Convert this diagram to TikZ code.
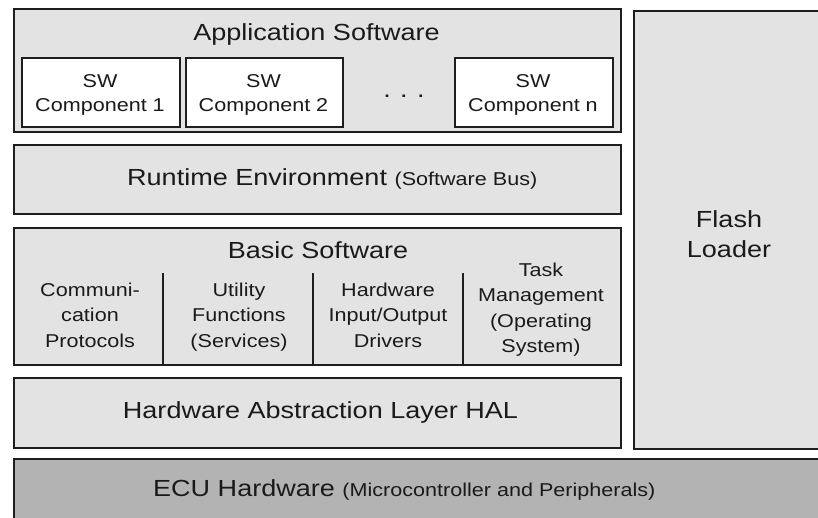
\documentclass[tikz,border=0pt]{standalone}
\usepackage{fontspec}
\usepackage{graphicx}
\setmainfont{Liberation Sans}
\usetikzlibrary{positioning}

% slightly widened lettering
\newcommand{\hstretch}[1]{\scalebox{1.16}[1]{#1}}
\newcommand{\bigtxt}{\fontsize{23.3}{30}\selectfont}
\newcommand{\smalltxt}{\fontsize{18.6}{25.5}\selectfont}
\newcommand{\stack}[1]{\hstretch{\begin{tabular}[t]{@{}c@{}}#1\end{tabular}}}

\definecolor{layerfill}{HTML}{E3E3E3}
\definecolor{hwfill}{HTML}{B3B3B3}
\definecolor{edge}{HTML}{1E1E1E}
\definecolor{ink}{HTML}{1A1A1A}

\tikzset{
  layer/.style={draw=edge, line width=1.8pt, fill=layerfill, rectangle,
    anchor=north west, inner sep=0pt},
  swbox/.style={layer, fill=white},
  hwbox/.style={layer, fill=hwfill},
  label/.style={anchor=base, inner sep=0pt, text=ink},
  divider/.style={draw=edge, line width=1.6pt}
}

\begin{document}
\begin{tikzpicture}[x=1pt, y=-1pt]
\useasboundingbox (0,0) rectangle (818,517);
\clip (0,0) rectangle (818,517);

% layer frames
\node[layer, minimum width=607pt, minimum height=123pt] (app) at (13,8) {};
\node[swbox, minimum width=158pt, minimum height=69pt] (sw1) at (21,57) {};
\node[swbox, minimum width=157pt, minimum height=69pt] (sw2) at (185,57) {};
\node[swbox, minimum width=158pt, minimum height=69pt] (swn) at (454,57) {};
\node[layer, minimum width=607pt, minimum height=69pt] (rte) at (13,144) {};
\node[layer, minimum width=200pt, minimum height=438pt] (flash) at (633,10) {};
\node[layer, minimum width=607pt, minimum height=137pt] (bsw) at (13,227) {};
\node[layer, minimum width=607pt, minimum height=70pt] (hal) at (13,377) {};
\node[hwbox, minimum width=820pt, minimum height=80pt] (ecu) at (13,458) {};

% column separators inside the basic software layer
\coordinate (d1t) at (163,273); \coordinate (d1b) at (163,364);
\coordinate (d2t) at (313,273); \coordinate (d2b) at (313,364);
\coordinate (d3t) at (463,273); \coordinate (d3b) at (463,364);
\draw[divider] (d1t) -- (d1b);
\draw[divider] (d2t) -- (d2b);
\draw[divider] (d3t) -- (d3b);

% texts
\node[label] (tapp) at (316.5,40) {\bigtxt\hstretch{Application Software}};
\node[label] (tsw1) at (100,87) {\smalltxt\stack{SW\\[-0.8pt]Component 1}};
\node[label] (tsw2) at (263.5,87) {\smalltxt\stack{SW\\[-0.8pt]Component 2}};
\node[label] (tswn) at (533,87) {\smalltxt\stack{SW\\[-0.8pt]Component n}};
\node[label] (tdots) at (404,97) {\bigtxt\hstretch{.\hspace{8pt}.\hspace{8pt}.}};

\node[label, anchor=base west] (trte) at (127,185)
  {\hstretch{\bigtxt Runtime Environment \smalltxt(Software Bus)}};

\node[label] (tbsw) at (318,258) {\bigtxt\hstretch{Basic Software}};
\node[label] (tcom) at (90,296) {\smalltxt\stack{Communi-\\cation\\Protocols}};
\node[label] (tutil) at (239,296) {\smalltxt\stack{Utility\\Functions\\(Services)}};
\node[label] (tio) at (388,296) {\smalltxt\stack{Hardware\\Input/Output\\Drivers}};
\node[label] (ttask) at (541,276) {\smalltxt\stack{Task\\Management\\(Operating\\System)}};

\node[label] (thal) at (320.5,418) {\bigtxt\hstretch{Hardware Abstraction Layer HAL}};

\node[label] (tflash) at (729,227) {\bigtxt\stack{Flash\\Loader}};

\node[label, anchor=base west] (tecu) at (153,496)
  {\hstretch{\bigtxt ECU Hardware \smalltxt(Microcontroller and Peripherals)}};
\end{tikzpicture}
\end{document}
